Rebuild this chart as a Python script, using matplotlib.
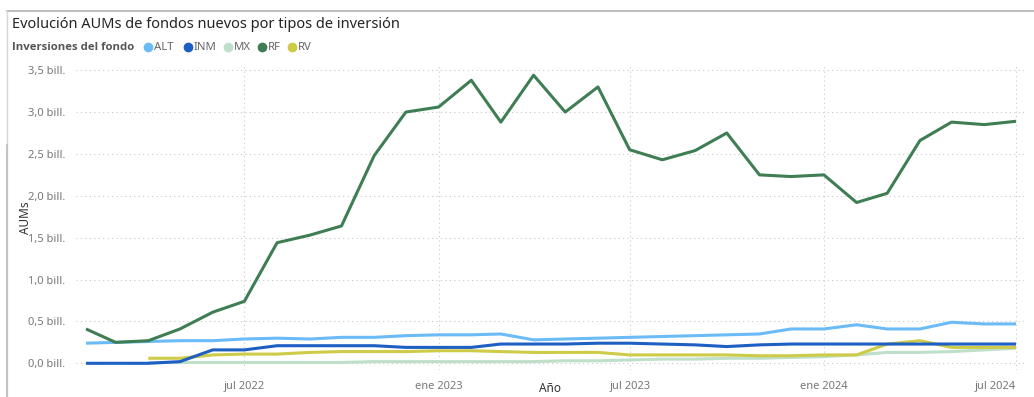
import numpy as np
import pandas as pd
import matplotlib
matplotlib.use("Agg")
import matplotlib.pyplot as plt
from matplotlib.lines import Line2D
from matplotlib.ticker import FuncFormatter, MultipleLocator

plt.rcParams['font.family'] = ['Noto Sans', 'DejaVu Sans']

# monthly AUMs (billions) per investment type, Feb 2022 .. Jul 2024
months = pd.date_range("2022-02-01", "2024-07-01", freq="MS")
nan = np.nan
alt = [0.24, 0.25, 0.26, 0.27, 0.27, 0.29, 0.30, 0.29, 0.31, 0.31, 0.33, 0.34, 0.34, 0.35, 0.28,
       0.29, 0.30, 0.31, 0.32, 0.33, 0.34, 0.35, 0.41, 0.41, 0.46, 0.41, 0.41, 0.49, 0.47, 0.47]
inm = [0.00, 0.00, 0.00, 0.02, 0.16, 0.16, 0.21, 0.21, 0.21, 0.21, 0.19, 0.19, 0.19, 0.23, 0.23,
       0.23, 0.24, 0.24, 0.23, 0.22, 0.20, 0.22, 0.23, 0.23, 0.23, 0.23, 0.23, 0.23, 0.23, 0.23]
mx = [nan, nan, 0.01, 0.01, 0.01, 0.01, 0.01, 0.01, 0.01, 0.02, 0.02, 0.02, 0.02, 0.02, 0.02,
      0.03, 0.03, 0.04, 0.05, 0.05, 0.06, 0.06, 0.07, 0.08, 0.10, 0.13, 0.13, 0.14, 0.16, 0.18]
rf = [0.41, 0.25, 0.27, 0.41, 0.61, 0.74, 1.44, 1.53, 1.64, 2.48, 3.00, 3.06, 3.38, 2.88, 3.44,
      3.00, 3.30, 2.55, 2.43, 2.54, 2.75, 2.25, 2.23, 2.25, 1.92, 2.03, 2.66, 2.88, 2.85, 2.89]
rv = [nan, nan, 0.06, 0.06, 0.10, 0.11, 0.11, 0.13, 0.14, 0.14, 0.14, 0.15, 0.15, 0.14, 0.13,
      0.13, 0.13, 0.10, 0.10, 0.10, 0.10, 0.09, 0.09, 0.10, 0.10, 0.23, 0.27, 0.19, 0.19, 0.19]

labels = ["ALT", "INM", "MX", "RF", "RV"]
colors = ["#6BBBF7", "#1D5FC2", "#BEDFC9", "#3F7D53", "#CDCB48"]
series = [alt, inm, mx, rf, rv]

tick_dates = pd.to_datetime(["2022-07-01", "2023-01-01", "2023-07-01", "2024-01-01", "2024-07-01"])
tick_labels = ["jul 2022", "ene 2023", "jul 2023", "ene 2024", "jul 2024"]

W, H = 1034, 397
fig = plt.figure(figsize=(W / 100, H / 100), dpi=100)
ax = fig.add_axes([76 / W, (H - 370) / H, (1024 - 76) / W, (370 - 66) / H])

# draw order: light series first, RF on top
for i in [2, 4, 1, 0, 3]:
    ax.plot(months, series[i], color=colors[i], lw=2.2, solid_capstyle="butt", zorder=3)

ax.set_ylim(-0.08, 3.55)
ax.set_xlim(months[0] - pd.Timedelta(days=9.5), months[-1] + pd.Timedelta(days=7.6))
ax.yaxis.set_major_locator(MultipleLocator(0.5))
ax.yaxis.set_major_formatter(FuncFormatter(lambda v, p: f"{v:.1f}".replace(".", ",") + " bill."))
ax.set_xticks(tick_dates)
ax.set_xticklabels(tick_labels)
# last label sits at the right edge of the visual
ax.get_xticklabels()[-1].set_horizontalalignment("right")

for s in ax.spines.values():
    s.set_visible(False)
ax.tick_params(length=0, colors="#777777", labelsize=8)
ax.tick_params(axis="y", pad=8)
ax.tick_params(axis="x", pad=8)
ax.grid(True, color="#c8c8c8", lw=0.8, linestyle=(0, (1, 3)))
ax.set_axisbelow(True)

ax.set_ylabel("AUMs", fontsize=8.5, color="#333333", labelpad=-3)
fig.text(550 / W, 1 - 389 / H, "Año", fontsize=8.5, color="#333333", ha="center", va="center")

fig.text(12 / W, 1 - 25 / H, "Evolución AUMs de fondos nuevos por tipos de inversión",
         fontsize=10.5, color="#252423", va="center", ha="left")

# legend row
fig.text(12 / W, 1 - 47 / H, "Inversiones del fondo", fontsize=8.2, fontweight="bold",
         family=["Open Sans", "DejaVu Sans"], color="#555555", va="center", ha="left")
leg_x = [148, 188, 228, 262, 292]
for lab, col, x in zip(labels, colors, leg_x):
    fig.add_artist(Line2D([x / W], [1 - 47 / H], marker="o", markersize=6, color=col,
                          linestyle="None", transform=fig.transFigure))
    fig.text((x + 6) / W, 1 - 47 / H, lab, fontsize=8.2, color="#666666", va="center", ha="left")

# frame edges of the visual
fig.add_artist(Line2D([7 / W, 1], [1 - 11 / H, 1 - 11 / H], color="#b0b0b0", lw=1.2,
                      transform=fig.transFigure))
fig.add_artist(Line2D([7 / W, 7 / W], [0, 1 - 11 / H], color="#d6d6d6", lw=1.0,
                      transform=fig.transFigure))
fig.add_artist(Line2D([7 / W, 7 / W], [0, 1 - 145 / H], color="#bdbdbd", lw=1.2,
                      transform=fig.transFigure))

fig.savefig("out.png", dpi=100)
